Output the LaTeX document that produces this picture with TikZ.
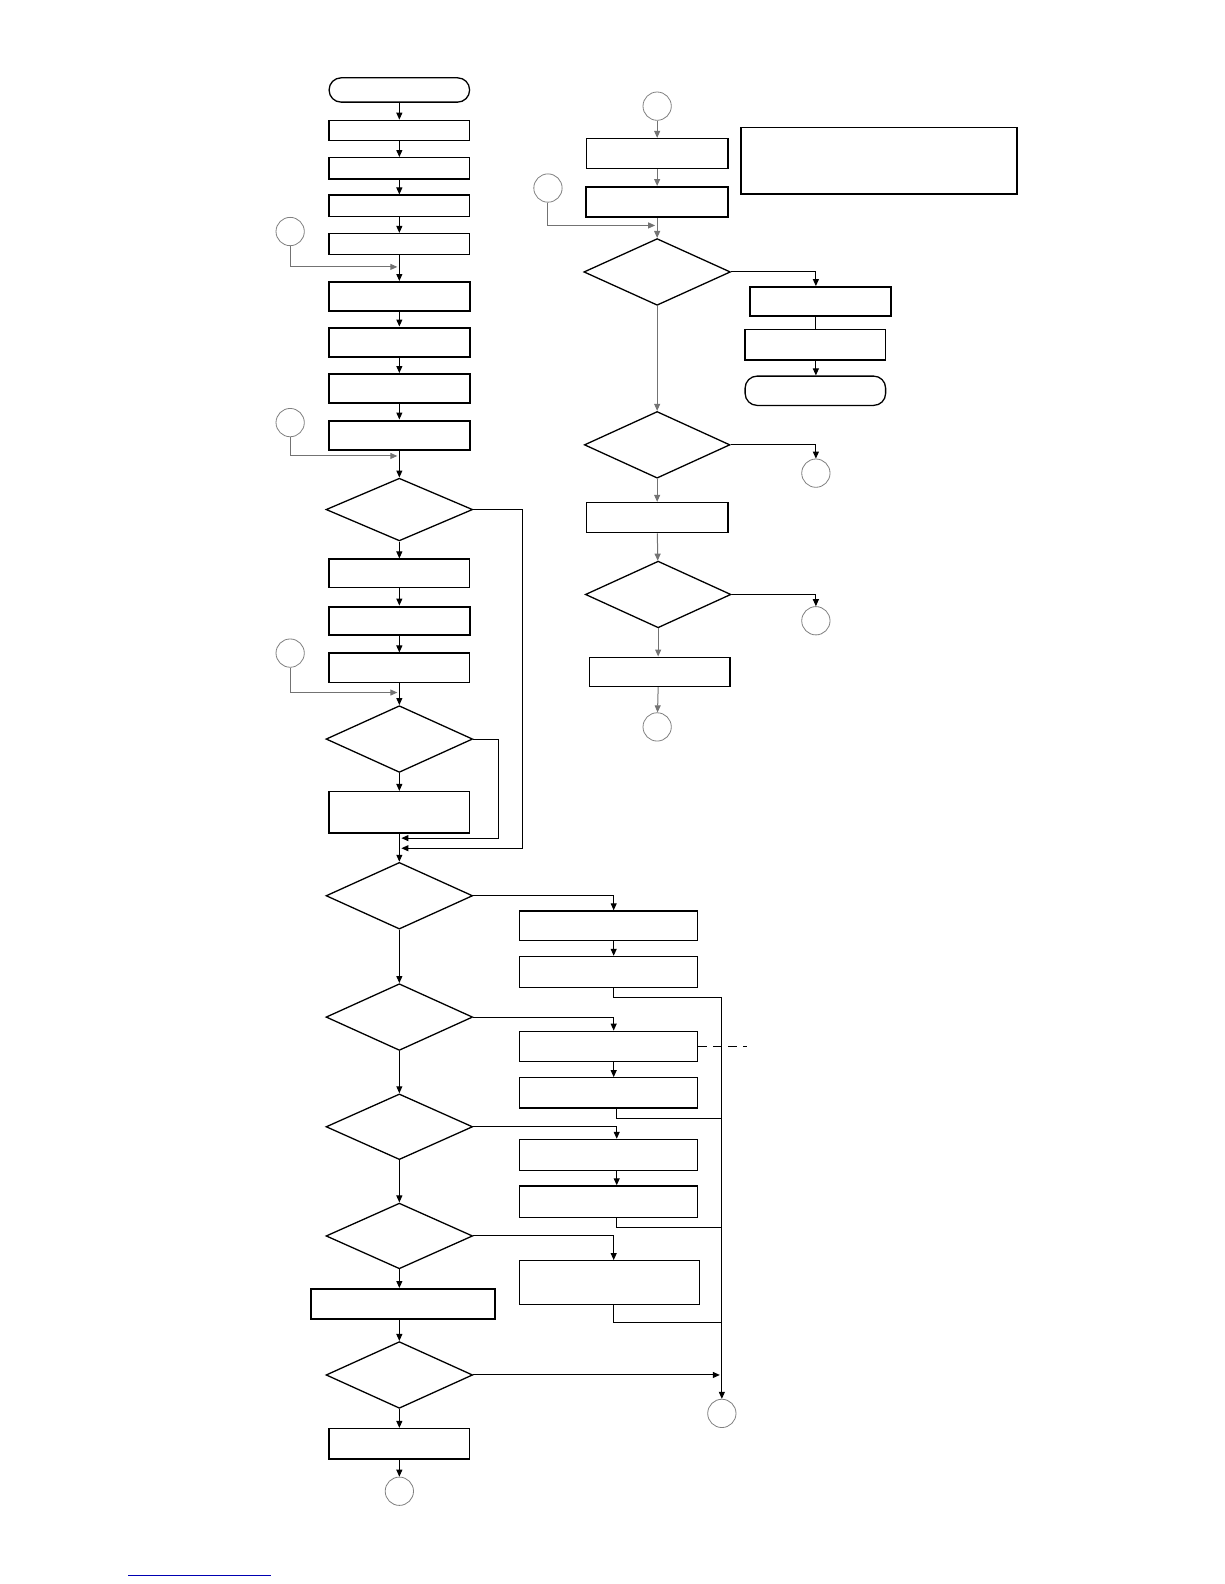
\documentclass[tikz,border=0pt]{standalone}
\usetikzlibrary{shapes.geometric,arrows.meta}

\tikzset{
  box/.style={draw, line width=1.3pt, minimum width=140.5pt, minimum height=29.3pt, inner sep=0pt},
  tbox/.style={box, line width=2.1pt},
  wbox/.style={box, minimum width=178pt},
  term/.style={box, rounded corners=12pt},
  dec/.style={draw, diamond, line width=1.3pt, minimum width=146.6pt, minimum height=66.7pt, inner sep=0pt},
  conn/.style={draw=black!50, circle, line width=0.8pt, minimum size=28.3pt, inner sep=0pt},
  line/.style={draw, line width=1pt},
  arr/.style={line, -{Triangle[length=7pt,width=6pt]}},
  garr/.style={arr, draw=black!55},
}

\begin{document}
\begin{tikzpicture}[x=1.011pt,y=-1.011pt]
\useasboundingbox (0pt,0pt) rectangle (1224pt,-1584pt);

% left column
\node[term] (s) at (395,89) [minimum height=24.3pt] {};
\node[box] (b1) at (395,129) [minimum height=20.2pt] {};
\node[box] (b2) at (395,166.5) [minimum height=21.2pt] {};
\node[box] (b3) at (395,203.5) [minimum height=21.2pt] {};
\node[box] (b4) at (395,241.5) [minimum height=21.2pt] {};
\node[tbox] (b5) at (395,293.5) {};
\node[tbox] (b6) at (395,338.5) {};
\node[tbox] (b7) at (395,384.5) {};
\node[tbox] (b8) at (395,430.5) {};
\node[dec] (d1) at (395,504) [minimum height=62.7pt] {};
\node[box] (b9) at (395,567) [minimum height=28.3pt] {};
\node[tbox] (b10) at (395,614) [minimum height=28.3pt] {};
\node[box] (b11) at (395,660.5) {};
\node[dec] (d2) at (395,731) {};
\node[box] (b12) at (395,803.5) [minimum height=41.5pt] {};
\node[dec] (d3) at (395,886) {};
\node[dec] (d4) at (395,1006) {};
\node[dec] (d5) at (395,1114.5) [minimum height=65.7pt] {};
\node[dec] (d6) at (395,1222.5) [minimum height=65.7pt] {};
\node[tbox] (b20) at (399,1290) [minimum width=184pt, minimum height=30.3pt] {};
\node[dec] (d7) at (395,1360) {};
\node[box] (b21) at (395,1428) [minimum height=30.3pt] {};

\node[conn] (c1) at (287,229) {};
\node[conn] (c2) at (287,418) {};
\node[conn] (c3) at (287,646) {};
\node[conn] (c8) at (395,1475) {};

% branch boxes
\node[box, wbox] (b13) at (602,915.5) {};
\node[tbox, wbox] (b14) at (602,961.5) [minimum height=31.3pt] {};
\node[box, wbox] (b15) at (602,1035) [minimum height=30.3pt] {};
\node[box, wbox] (b16) at (602,1081) [minimum height=30.3pt] {};
\node[tbox, wbox] (b17) at (602,1142.5) [minimum height=31.3pt] {};
\node[box, wbox] (b18) at (602,1188.5) [minimum height=31.3pt] {};
\node[tbox, wbox] (b19) at (603,1268.5) [minimum width=180pt, minimum height=43.5pt] {};
\node[conn] (c9) at (714,1398) {};

% right column
\node[conn] (cr1) at (650,105) {};
\node[box] (r1) at (650,152) [minimum width=141.5pt, minimum height=30.3pt] {};
\node[tbox] (r2) at (650,200) [minimum width=141.5pt, minimum height=30.3pt] {};
\node[conn] (cr2) at (542,186) {};
\node[dec] (dr1) at (650,269) {};
\node[tbox] (r3) at (811.5,298.5) {};
\node[box] (r4) at (806.5,341) [minimum height=30.3pt] {};
\node[term] (tr) at (806.5,386.5) {};
\node[box] (note) at (869.5,159) [minimum width=276pt, minimum height=66.7pt] {};
\node[dec] (dr2) at (650,440) [minimum width=145.6pt] {};
\node[conn] (cr3) at (807,468) {};
\node[box] (r5) at (650,512) [minimum width=141.5pt, minimum height=30.3pt] {};
\node[dec] (dr3) at (651,588) [minimum width=145.6pt] {};
\node[conn] (cr4) at (807,614) {};
\node[box] (r6) at (652.5,664.5) {};
\node[conn] (cr5) at (650,719) {};

\coordinate (rc) at (607,0);
\coordinate (rd) at (610,0);
\coordinate (ra) at (807,0);
\coordinate (k1) at (393,264);
\coordinate (k2) at (393,451);
\coordinate (k3) at (393,685);
\coordinate (k4) at (397,839);
\coordinate (k5) at (397,829);
\coordinate (l1) at (517,839);
\coordinate (l2) at (493,829);
\coordinate (kr) at (648,223);
\coordinate (j1) at (714,987);
\coordinate (j2) at (714,1106);
\coordinate (j3) at (714,1214);
\coordinate (j4) at (714,1308);
\coordinate (j5) at (712,1360);

% main line
\foreach \a/\b in {s/b1,b1/b2,b2/b3,b3/b4,b4/b5,b5/b6,b6/b7,b7/b8,b8/d1,d1/b9,b9/b10,b10/b11,b11/d2,d2/b12,b12/d3,d3/d4,d4/d5,d5/d6,d7/b21,b21/c8}
  \path[arr] (\a) -- (\b);
\path[arr] (d6) -- (b20.north -| d6);
\path[arr] (b20.south -| d7) -- (d7);

\path[garr] (c1) |- (k1);
\path[garr] (c2) |- (k2);
\path[garr] (c3) |- (k3);
\path[arr] (d1.east) -| (l1) -- (k4);
\path[arr] (d2.east) -| (l2) -- (k5);

% branches
\path[arr] (d3.east) -| (b13.north -| rc);
\path[arr] (b13.south -| rc) -- (b14.north -| rc);
\path[arr] (d4.east) -| (b15.north -| rc);
\path[arr] (b15.south -| rc) -- (b16.north -| rc);
\path[arr] (d5.east) -| (b17.north -| rd);
\path[arr] (b17.south -| rd) -- (b18.north -| rd);
\path[arr] (d6.east) -| (b19.north -| rc);
\path[line] (b14.south -| rc) |- (j1);
\path[line] (b16.south -| rd) |- (j2);
\path[line] (b18.south -| rd) |- (j3);
\path[line] (b19.south -| rc) |- (j4);
\path[arr] (j1) -- (c9);
\path[arr] (d7.east) -- (j5);
\path[line, dash pattern=on 9pt off 6pt] (b15.east) -- ++(48,0);

% right side
\path[garr] (cr1) -- (r1);
\path[garr] (r1) -- (r2);
\path[garr] (cr2) |- (kr);
\path[garr] (r2) -- (dr1);
\path[arr] (dr1.east) -| (r3.north -| ra);
\path[line] (r3.south -| ra) -- (r4.north -| ra);
\path[arr] (r4.south -| ra) -- (tr.north -| ra);
\path[garr] (dr1) -- (dr2);
\path[arr] (dr2.east) -| (cr3);
\path[garr] (dr2) -- (r5);
\path[garr] (r5) -- (dr3);
\path[arr] (dr3.east) -| (cr4);
\path[garr] (dr3) -- (r6.north -| dr3);
\path[garr] (r6.south -| dr3) -- (cr5);

\draw[blue!70!black, line width=1.2pt] (127,1558) -- (268,1558);
\end{tikzpicture}
\end{document}
